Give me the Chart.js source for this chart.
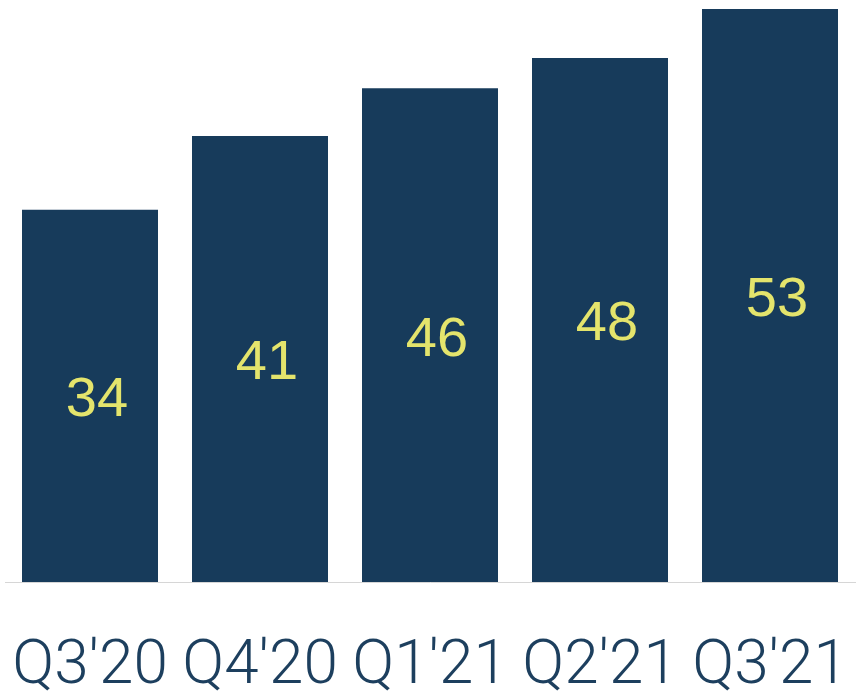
<!DOCTYPE html>
<html lang="en">
<head>
    <meta charset="UTF-8">
    <title>Quarterly bars</title>
    <script src="https://cdn.jsdelivr.net/npm/chart.js"></script>
    <style>
        body {
            margin: 0;
            background: #ffffff;
        }
        #wrap {
            width: 856px;
            height: 693px;
        }
    </style>
</head>
<body>
    <div id="wrap">
        <canvas id="chart"></canvas>
    </div>

    <script>
        // values (bar heights), labels shown rounded
        const quarters = ["Q3'20", "Q4'20", "Q1'21", "Q2'21", "Q3'21"];
        const values = [34.3, 41.1, 45.5, 48.3, 52.8];
        const valueLabels = ['34', '41', '46', '48', '53'];

        const barColor = '#173b5b';
        const labelColor = '#e4e46c';
        const tickColor = '#1d3f5e';

        // draw the number in the middle of each bar (sits a bit right of centre in the original)
        const barLabels = {
            id: 'barLabels',
            afterDatasetsDraw(chart) {
                const ctx = chart.ctx;
                const meta = chart.getDatasetMeta(0);
                ctx.save();
                ctx.fillStyle = labelColor;
                ctx.font = '56px "Liberation Sans", Arial, sans-serif';
                ctx.textAlign = 'center';
                ctx.textBaseline = 'middle';
                meta.data.forEach((bar, i) => {
                    const mid = (bar.y + bar.base) / 2;
                    ctx.fillText(valueLabels[i], bar.x + 7, mid + 5);
                });
                ctx.restore();
            }
        };

        new Chart(document.getElementById('chart'), {
            type: 'bar',
            data: {
                labels: quarters,
                datasets: [{
                    data: values,
                    backgroundColor: barColor,
                    barPercentage: 0.8,
                    categoryPercentage: 1.0
                }]
            },
            options: {
                responsive: true,
                maintainAspectRatio: false,
                animation: false,
                layout: {
                    padding: { left: 5, right: 1, top: 0, bottom: 0 }
                },
                plugins: {
                    legend: { display: false },
                    tooltip: { enabled: false }
                },
                scales: {
                    y: {
                        display: false,
                        min: 0,
                        max: 53.64
                    },
                    x: {
                        grid: { display: false },
                        border: { display: true, color: '#d6d6d6', width: 1 },
                        ticks: {
                            color: tickColor,
                            padding: 40,
                            maxRotation: 0,
                            autoSkip: false,
                            font: { family: 'Roboto', weight: 300, size: 62 }
                        },
                        afterFit(scale) {
                            // labels nearly fill their slots; keep the plot full width
                            scale.paddingLeft = 0;
                            scale.paddingRight = 0;
                            scale.height = 111;
                        }
                    }
                }
            },
            plugins: [barLabels]
        });
    </script>
</body>
</html>
